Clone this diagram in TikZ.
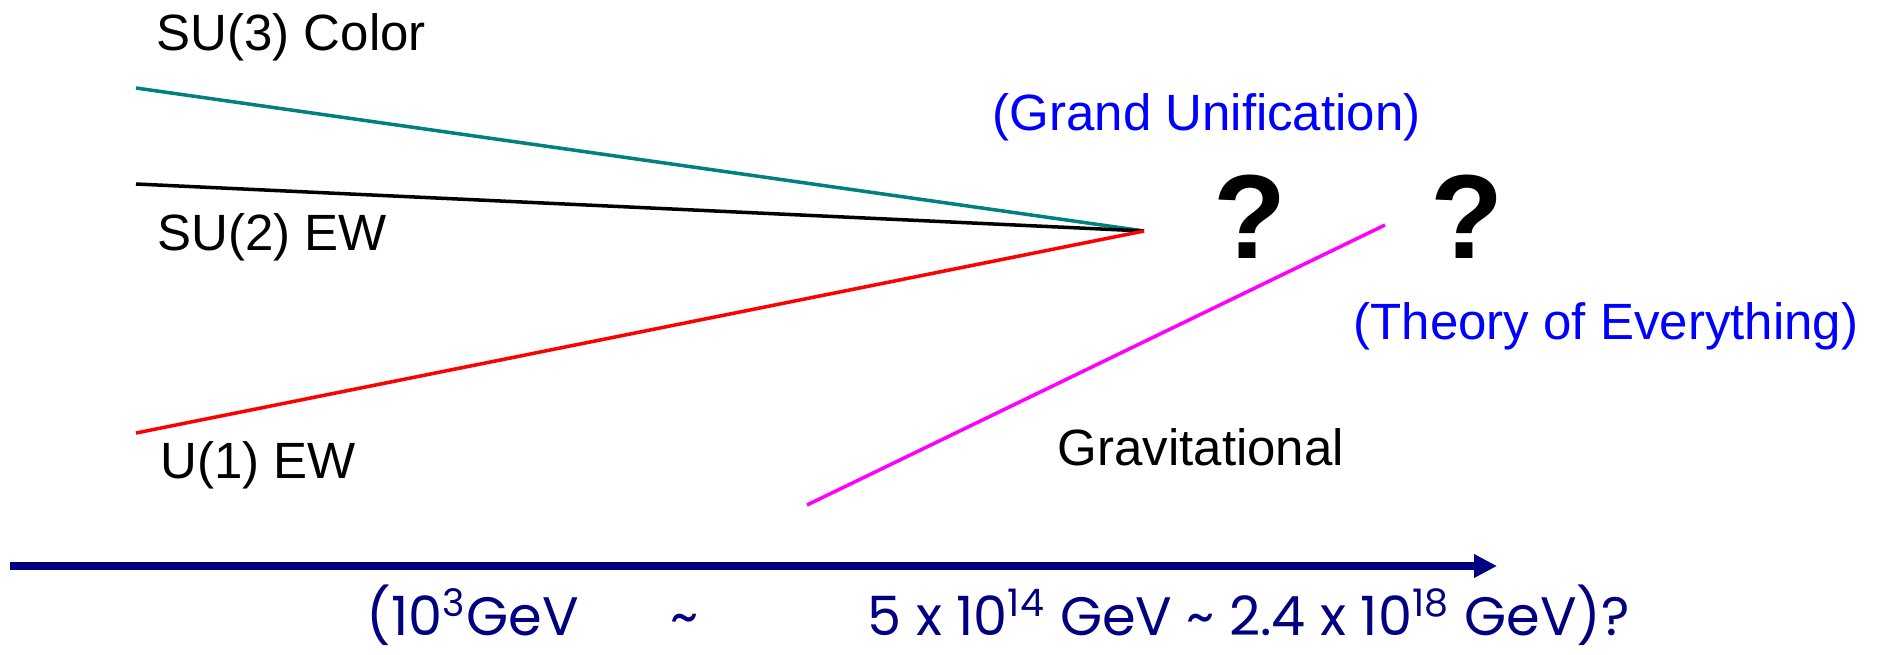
\documentclass[tikz,border=0pt]{standalone}
\usepackage{fontspec}
\usetikzlibrary{arrows.meta}
\setmainfont{Liberation Sans}
\newfontfamily\axisfont{Poppins}
\definecolor{fcteal}{HTML}{008080}
\definecolor{fcred}{HTML}{FF0000}
\definecolor{fcmagenta}{HTML}{FF00FF}
\definecolor{fcblue}{HTML}{0000FF}
\definecolor{fcnavy}{HTML}{000080}
\begin{document}
\begin{tikzpicture}[x=0.01cm, y=-0.01cm,
  grouplabel/.style={font=\fontsize{14.5pt}{16pt}\selectfont, anchor=base west, inner sep=0pt},
  bluelabel/.style={grouplabel, text=fcblue},
  qmark/.style={font=\fontsize{34pt}{36pt}\selectfont\bfseries, anchor=base west, inner sep=0pt},
  axislabel/.style={font=\fontsize{15.4pt}{17pt}\selectfont\axisfont, text=fcnavy, anchor=base west, inner sep=0pt}]
  \useasboundingbox (0,0) rectangle (1884,654);
  \coordinate (su3) at (136,88);
  \coordinate (su2) at (136,184);
  \coordinate (u1) at (136,433);
  \coordinate (gut) at (1144,231);
  \coordinate (grav) at (807,505);
  \coordinate (toe) at (1385,225);
  \coordinate (axstart) at (10,566);
  \coordinate (axend) at (1497,566);
  \node[grouplabel] (lsu3) at (156,50) {SU(3) Color};
  \node[grouplabel] (lsu2) at (157,250) {SU(2) EW};
  \node[grouplabel] (lu1) at (160,478) {U(1) EW};
  \node[grouplabel] (lgrav) at (1057,465) {Gravitational};
  \node[bluelabel] (lgut) at (992,130) {(Grand Unification)};
  \node[bluelabel] (ltoe) at (1353,339) {(Theory of Everything)};
  \node[qmark] (qgut) at (1213,258) {?};
  \node[qmark] (qtoe) at (1430,258) {?};
  \draw[fcteal, line width=1pt] (su3) -- (gut);
  \draw[black, line width=1pt] (su2) -- (gut);
  \draw[fcred, line width=1pt] (u1) -- (gut);
  \draw[fcmagenta, line width=1pt] (grav) -- (toe);
  \draw[fcnavy, line width=2.3pt, -{Triangle[length=6.5pt, width=6.3pt]}] (axstart) -- (axend);
  \node[axislabel] (elow) at (366,635) {(10\textsuperscript{3}GeV};
  \node[axislabel, anchor=base] (etilde) at (685,635) {\textasciitilde};
  \node[axislabel] (ehigh) at (867,635) {5 x 10\textsuperscript{14} GeV \textasciitilde{} 2.4 x 10\textsuperscript{18} GeV)?};
\end{tikzpicture}
\end{document}
